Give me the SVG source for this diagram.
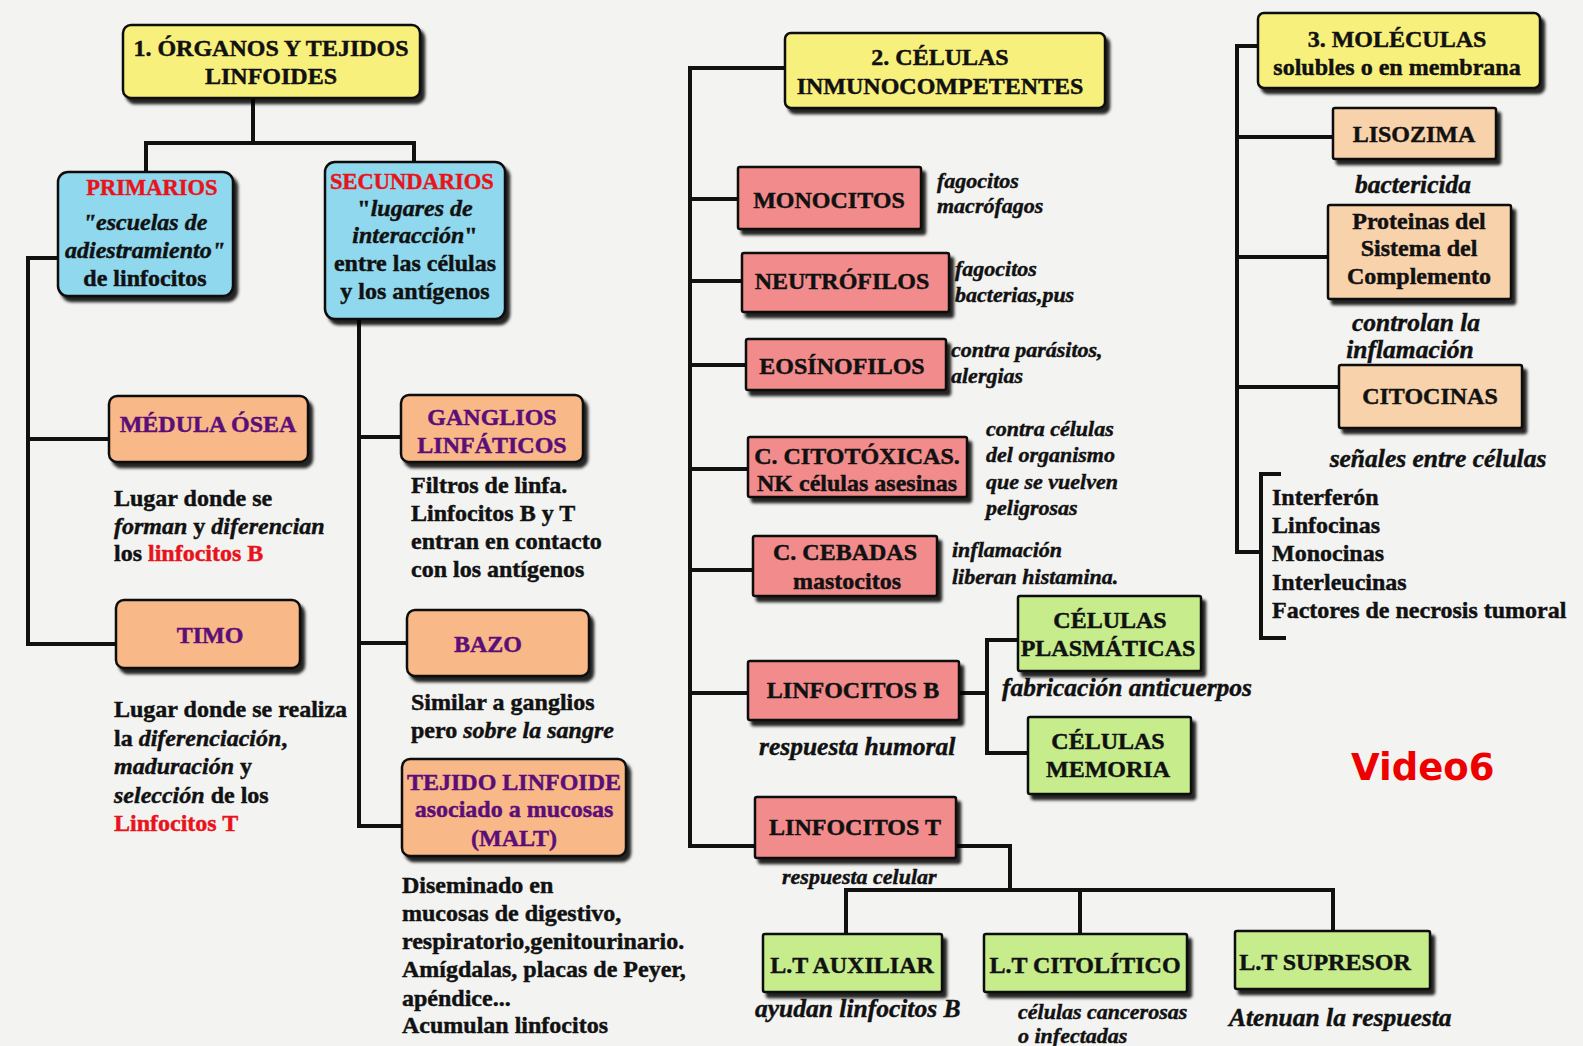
<svg xmlns="http://www.w3.org/2000/svg" width="1583" height="1046" viewBox="0 0 1583 1046">
<defs>
<filter id="sh" x="-10%" y="-10%" width="130%" height="140%">
<feDropShadow dx="4" dy="5" stdDeviation="1.8" flood-color="#000" flood-opacity="0.85"/>
</filter>
<style>
text{font-family:"Liberation Serif","Times New Roman",serif;font-weight:bold;fill:#111;stroke:#111;stroke-width:0.45}
.t{font-size:24px;text-anchor:middle}
.b{font-size:24px;text-anchor:middle}
.p{fill:#5b0d78;stroke:#5b0d78}
.r{fill:#e8141c;stroke:#e8141c}
.d{font-size:24px}
.i{font-size:22px;font-style:italic}
.j{font-size:25.5px;font-style:italic}
.c{text-anchor:middle}
.box{stroke:#111;stroke-width:2.5;filter:url(#sh)}
.yel{fill:#f8f07c}
.blu{fill:#8fd8ee}
.ora{fill:#f8b887}
.pin{fill:#f28b8b}
.grn{fill:#c6ec8c}
.bei{fill:#f8d2aa}
.ln{fill:none;stroke:#111;stroke-width:4;stroke-linejoin:miter}
</style>
</defs>
<rect width="1583" height="1046" fill="#f3f3f1"/>

<g id="connectors">
<path class="ln" d="M253,98 V143 M146,172 V143 H414 V162"/>
<path class="ln" d="M58,258 H28 V644 H116 M28,439 H109"/>
<path class="ln" d="M359,319 V826 H402 M359,437 H401 M359,643 H407"/>
<path class="ln" d="M785,68 H690 V846 H755 M690,199 H738 M690,281 H742 M690,365 H746 M690,469 H748 M690,570 H753 M690,693 H748"/>
<path class="ln" d="M959,693 H987 M1018,640 H987 V753 H1028"/>
<path class="ln" d="M956,846 H1010 V890 M846,934 V890 H1333 V931 M1080,890 V934"/>
<path class="ln" d="M1258,46 H1237 V552 H1261 M1237,137 H1333 M1237,257 H1328 M1237,387 H1339"/>
<path class="ln" d="M1281,474 H1261 V638 H1286"/>
</g>

<g id="n-organos">
<rect class="box yel" x="123" y="25" width="297" height="73" rx="8"/>
<text class="t" x="271" y="56">1. ÓRGANOS Y TEJIDOS</text>
<text class="t" x="271" y="84">LINFOIDES</text>
</g>
<g id="n-primarios">
<rect class="box blu" x="58" y="172" width="175" height="124" rx="10"/>
<text class="c r" x="152" y="195" font-size="22.5">PRIMARIOS</text>
<text class="c d" x="145" y="230" font-style="italic">"escuelas de</text>
<text class="c d" x="145" y="258" font-style="italic">adiestramiento"</text>
<text class="c d" x="145" y="286">de linfocitos</text>
</g>
<g id="n-secundarios">
<rect class="box blu" x="325" y="162" width="180" height="157" rx="10"/>
<text class="c r" x="412" y="189" font-size="22.5">SECUNDARIOS</text>
<text class="c d" x="415" y="216">"<tspan font-style="italic">lugares de</tspan></text>
<text class="c d" x="415" y="243"><tspan font-style="italic">interacción</tspan>"</text>
<text class="c d" x="415" y="271">entre las células</text>
<text class="c d" x="415" y="299">y los antígenos</text>
</g>
<g id="n-medula">
<rect class="box ora" x="109" y="396" width="199" height="66" rx="8"/>
<text class="b p" x="208" y="432" font-size="23">MÉDULA ÓSEA</text>
</g>
<g id="t-medula">
<text class="d" x="114" y="506">Lugar donde se</text>
<text class="d" x="114" y="534"><tspan font-style="italic">forman</tspan> y <tspan font-style="italic">diferencian</tspan></text>
<text class="d" x="114" y="561">los <tspan class="r">linfocitos B</tspan></text>
</g>
<g id="n-timo">
<rect class="box ora" x="116" y="600" width="184" height="68" rx="8"/>
<text class="b p" x="210" y="643" font-size="23">TIMO</text>
</g>
<g id="t-timo">
<text class="d" x="114" y="717">Lugar donde se realiza</text>
<text class="d" x="114" y="746">la <tspan font-style="italic">diferenciación</tspan>,</text>
<text class="d" x="114" y="774"><tspan font-style="italic">maduración</tspan> y</text>
<text class="d" x="114" y="803"><tspan font-style="italic">selección</tspan> de los</text>
<text class="d r" x="114" y="831">Linfocitos T</text>
</g>
<g id="n-ganglios">
<rect class="box ora" x="401" y="395" width="182" height="67" rx="8"/>
<text class="b p" x="492" y="425" font-size="23">GANGLIOS</text>
<text class="b p" x="492" y="453" font-size="23">LINFÁTICOS</text>
</g>
<g id="t-ganglios">
<text class="d" x="411" y="493">Filtros de linfa.</text>
<text class="d" x="411" y="521">Linfocitos B y T</text>
<text class="d" x="411" y="549">entran en contacto</text>
<text class="d" x="411" y="577">con los antígenos</text>
</g>
<g id="n-bazo">
<rect class="box ora" x="407" y="610" width="182" height="66" rx="8"/>
<text class="b p" x="488" y="652" font-size="23">BAZO</text>
</g>
<g id="t-bazo">
<text class="d" x="411" y="710">Similar a ganglios</text>
<text class="d" x="411" y="738">pero <tspan font-style="italic">sobre la sangre</tspan></text>
</g>
<g id="n-malt">
<rect class="box ora" x="402" y="759" width="224" height="97" rx="8"/>
<text class="b p" x="514" y="790" font-size="23">TEJIDO LINFOIDE</text>
<text class="b p" x="514" y="817" font-size="21">asociado a mucosas</text>
<text class="b p" x="514" y="846" font-size="23">(MALT)</text>
</g>
<g id="t-malt">
<text class="d" x="402" y="893">Diseminado en</text>
<text class="d" x="402" y="921">mucosas de digestivo,</text>
<text class="d" x="402" y="949">respiratorio,genitourinario.</text>
<text class="d" x="402" y="977">Amígdalas, placas de Peyer,</text>
<text class="d" x="402" y="1006">apéndice...</text>
<text class="d" x="402" y="1033">Acumulan linfocitos</text>
</g>

<g id="n-celulas">
<rect class="box yel" x="785" y="33" width="320" height="75" rx="6"/>
<text class="t" x="940" y="65">2. CÉLULAS</text>
<text class="t" x="940" y="94">INMUNOCOMPETENTES</text>
</g>
<g id="n-monocitos">
<rect class="box pin" x="738" y="167" width="183" height="62" rx="2"/>
<text class="b" x="829" y="208">MONOCITOS</text>
<text class="i" x="937" y="188">fagocitos</text>
<text class="i" x="937" y="213">macrófagos</text>
</g>
<g id="n-neutrofilos">
<rect class="box pin" x="742" y="253" width="207" height="59" rx="2"/>
<text class="b" x="842" y="289">NEUTRÓFILOS</text>
<text class="i" x="955" y="276">fagocitos</text>
<text class="i" x="955" y="302">bacterias,pus</text>
</g>
<g id="n-eosinofilos">
<rect class="box pin" x="746" y="339" width="200" height="51" rx="2"/>
<text class="b" x="842" y="374">EOSÍNOFILOS</text>
<text class="i" x="951" y="357">contra parásitos,</text>
<text class="i" x="951" y="383">alergias</text>
</g>
<g id="n-citotoxicas">
<rect class="box pin" x="748" y="437" width="219" height="60" rx="2"/>
<text class="b" x="857" y="464" font-size="23">C. CITOTÓXICAS.</text>
<text class="b" x="857" y="491" font-size="23">NK células asesinas</text>
<text class="i" x="986" y="436">contra células</text>
<text class="i" x="986" y="462">del organismo</text>
<text class="i" x="986" y="489">que se vuelven</text>
<text class="i" x="986" y="515">peligrosas</text>
</g>
<g id="n-cebadas">
<rect class="box pin" x="753" y="536" width="184" height="60" rx="2"/>
<text class="b" x="845" y="560" font-size="23">C. CEBADAS</text>
<text class="b" x="847" y="589" font-size="22">mastocitos</text>
<text class="i" x="952" y="557">inflamación</text>
<text class="i" x="952" y="584">liberan histamina.</text>
</g>
<g id="n-linfb">
<rect class="box pin" x="748" y="661" width="211" height="59" rx="2"/>
<text class="b" x="853" y="698">LINFOCITOS B</text>
<text class="j" x="759" y="755">respuesta humoral</text>
</g>
<g id="n-plasmaticas">
<rect class="box grn" x="1018" y="596" width="183" height="75" rx="2"/>
<text class="b" x="1110" y="628">CÉLULAS</text>
<text class="b" x="1108" y="656">PLASMÁTICAS</text>
<text class="j" x="1002" y="696">fabricación anticuerpos</text>
</g>
<g id="n-memoria">
<rect class="box grn" x="1028" y="717" width="163" height="77" rx="2"/>
<text class="b" x="1108" y="749">CÉLULAS</text>
<text class="b" x="1108" y="777">MEMORIA</text>
</g>
<g id="n-linft">
<rect class="box pin" x="755" y="797" width="201" height="61" rx="2"/>
<text class="b" x="855" y="835">LINFOCITOS T</text>
<text class="i" x="782" y="884">respuesta celular</text>
</g>
<g id="n-auxiliar">
<rect class="box grn" x="763" y="934" width="179" height="58" rx="2"/>
<text class="b" x="852" y="973">L.T AUXILIAR</text>
<text class="j" x="755" y="1017">ayudan linfocitos B</text>
</g>
<g id="n-citolitico">
<rect class="box grn" x="984" y="934" width="203" height="58" rx="2"/>
<text class="b" x="1085" y="973">L.T CITOLÍTICO</text>
<text class="i" x="1018" y="1019">células cancerosas</text>
<text class="i" x="1018" y="1043">o infectadas</text>
</g>
<g id="n-supresor">
<rect class="box grn" x="1235" y="931" width="195" height="58" rx="2"/>
<text class="b" x="1325" y="970">L.T SUPRESOR</text>
<text class="j" x="1229" y="1026">Atenuan la respuesta</text>
</g>

<g id="n-moleculas">
<rect class="box yel" x="1258" y="13" width="282" height="75" rx="6"/>
<text class="t" x="1397" y="47">3. MOLÉCULAS</text>
<text class="t" x="1397" y="75" font-size="21">solubles o en membrana</text>
</g>
<g id="n-lisozima">
<rect class="box bei" x="1333" y="108" width="163" height="51" rx="2"/>
<text class="b" x="1414" y="142" font-size="23">LISOZIMA</text>
<text class="j c" x="1413" y="193">bactericida</text>
</g>
<g id="n-proteinas">
<rect class="box bei" x="1328" y="205" width="183" height="94" rx="2"/>
<text class="b" x="1419" y="229" font-size="23">Proteinas del</text>
<text class="b" x="1419" y="256" font-size="23">Sistema del</text>
<text class="b" x="1419" y="284" font-size="23">Complemento</text>
<text class="j c" x="1416" y="331">controlan la</text>
<text class="j c" x="1410" y="358">inflamación</text>
</g>
<g id="n-citocinas">
<rect class="box bei" x="1339" y="365" width="183" height="63" rx="2"/>
<text class="b" x="1430" y="404" font-size="23">CITOCINAS</text>
<text class="j c" x="1438" y="467">señales entre células</text>
</g>
<g id="t-citocinas">
<text class="d" x="1272" y="505" font-size="23">Interferón</text>
<text class="d" x="1272" y="533" font-size="23">Linfocinas</text>
<text class="d" x="1272" y="561" font-size="23">Monocinas</text>
<text class="d" x="1272" y="590" font-size="23">Interleucinas</text>
<text class="d" x="1272" y="618" font-size="23">Factores de necrosis tumoral</text>
</g>
<text x="1351" y="780" font-size="37" style="font-family:'DejaVu Sans',Verdana,sans-serif;font-weight:bold;fill:#ee0000;stroke:none">Video6</text>
</svg>
